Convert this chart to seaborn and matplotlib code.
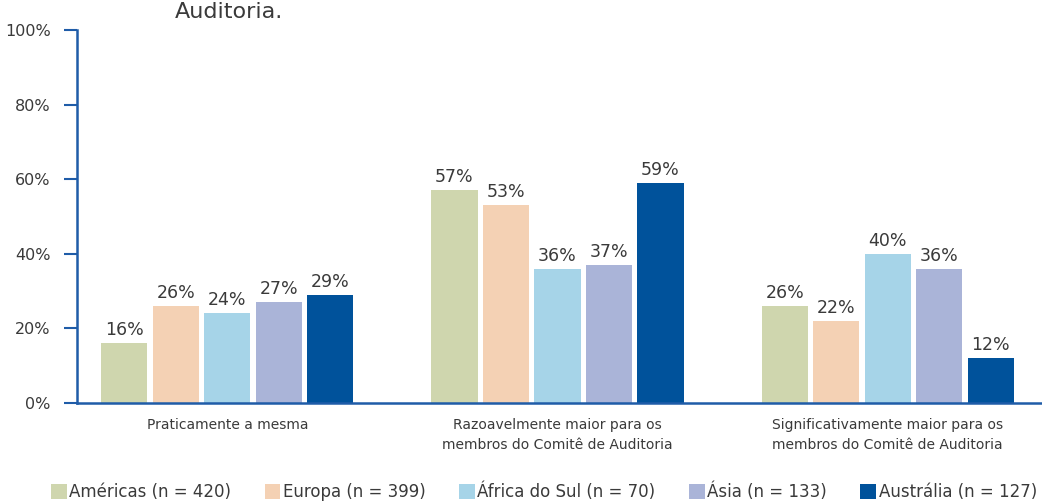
import matplotlib
matplotlib.use("Agg")
import matplotlib.pyplot as plt
import seaborn as sns
import pandas as pd

# Data
categorias = ["Praticamente a mesma",
              "Razoavelmente maior para os\nmembros do Comitê de Auditoria",
              "Significativamente maior para os\nmembros do Comitê de Auditoria"]
regioes = ["Américas (n = 420)", "Europa (n = 399)", "África do Sul (n = 70)",
           "Ásia (n = 133)", "Austrália (n = 127)"]
americas = [16, 57, 26]
europa = [26, 53, 22]
africa_sul = [24, 36, 40]
asia = [27, 37, 36]
australia = [29, 59, 12]
yticks = [0, 20, 40, 60, 80, 100]

cores = ["#cfd6ae", "#f4d1b4", "#a6d4e8", "#aab4d8", "#00529b"]
azul = "#1f5ca8"
texto = "#3a3a3a"

# Long-form table for seaborn
series = [americas, europa, africa_sul, asia, australia]
linhas = []
for regiao, valores in zip(regioes, series):
    for cat, v in zip(categorias, valores):
        linhas.append({"categoria": cat, "regiao": regiao, "valor": v})
df = pd.DataFrame(linhas)

sns.set_style("white")
plt.rcParams["font.family"] = ["DejaVu Sans"]

fig = plt.figure(figsize=(10.42, 5.01), dpi=100)
ax = fig.add_axes([77 / 1042, 98 / 501, 965 / 1042, 373 / 501])

sns.barplot(data=df, x="categoria", y="valor", hue="regiao", order=categorias,
            hue_order=regioes, palette=cores, saturation=1, width=0.78, gap=0.1,
            linewidth=0, ax=ax)

# value labels on top of the bars
for cont in ax.containers:
    ax.bar_label(cont, labels=[f"{int(v)}%" for v in cont.datavalues],
                 padding=3, fontsize=12.5, color=texto)

ax.set_xlim(-0.455, 2.467)
ax.set_ylim(0, 100)
ax.set_yticks(yticks)
ax.set_yticklabels([f"{t}%" for t in yticks])
ax.set_xlabel("")
ax.set_ylabel("")

for lado in ["top", "right"]:
    ax.spines[lado].set_visible(False)
for lado in ["left", "bottom"]:
    ax.spines[lado].set_color(azul)
    ax.spines[lado].set_linewidth(1.8)

ax.tick_params(axis="y", left=True, direction="out", length=9.5, width=1.5,
               color=azul, pad=9.5, labelsize=11.5, labelcolor=texto)
ax.tick_params(axis="x", bottom=False, length=0, pad=11, labelsize=10,
               labelcolor=texto)
for lbl in ax.get_xticklabels():
    lbl.set_linespacing(1.55)

# last line of the title, cut at the top of the image
fig.text(175 / 1042, 1 - 18 / 501, "Auditoria.", fontsize=16, color=texto,
         va="baseline")

handles, labels = ax.get_legend_handles_labels()
ax.get_legend().remove()
fig.legend(handles, labels, loc="center", bbox_to_anchor=(0.522, 1 - 492 / 501),
           ncol=5, frameon=False, fontsize=12, handlelength=0.95,
           handleheight=0.95, handletextpad=0.15, columnspacing=2.0,
           borderaxespad=0, borderpad=0, labelcolor=texto)

fig.savefig("out.png", dpi=100)
